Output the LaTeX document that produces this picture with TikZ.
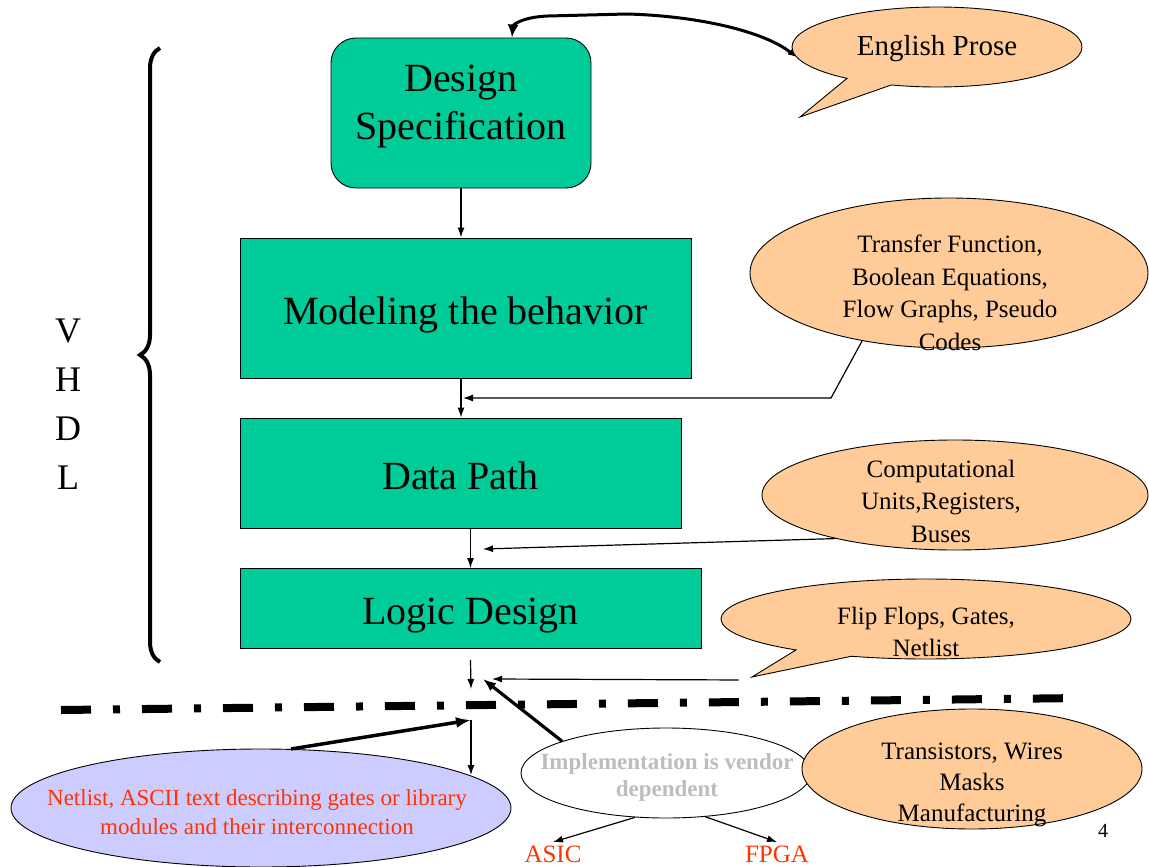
\documentclass[tikz,border=0pt]{standalone}
\usepackage{fontspec}
\setmainfont{Liberation Serif}
\usetikzlibrary{shapes.geometric,shapes.callouts,arrows.meta,decorations.pathreplacing}
\definecolor{stagegreen}{HTML}{00CC99}
\definecolor{notepeach}{HTML}{FFCC99}
\definecolor{netblue}{HTML}{CCCCFF}
\definecolor{labelred}{HTML}{FF3300}
\definecolor{vendorgray}{HTML}{BDBDBD}

\begin{document}
\begin{tikzpicture}[x=1pt, y=-1pt, >={Latex[length=10pt,width=7pt]}]
	\tikzset{stage/.style={draw, fill=stagegreen, line width=0.9pt, inner sep=0pt, text height=32pt, text depth=0pt, font=\fontsize{40}{48}\selectfont}}
	\tikzset{note/.style={draw, fill=notepeach, line width=0.9pt, inner sep=0pt}}
	\tikzset{notetext/.style={align=center, inner sep=0pt, font=\fontsize{25}{32.5}\selectfont}}
	\tikzset{feed/.style={->, line width=1.2pt}}
	\tikzset{heavy/.style={line width=3.5pt, -{Latex[length=15pt,width=11pt]}}}

	\useasboundingbox (0,0) rectangle (1149,867);

	\node[stage, rounded corners=25pt, minimum width=260pt, minimum height=150pt] (spec) at (461,113) {};
	\node[font=\fontsize{40}{48}\selectfont, align=center] (spectext) at (461,107) {Design\\Specification};
	\node[stage, minimum width=451pt, minimum height=140pt] (model) at (465.5,308) {Modeling the behavior};
	\node[stage, minimum width=441pt, minimum height=110pt] (datapath) at (460.5,473) {Data Path};
	\node[stage, minimum width=461pt, minimum height=80pt] (logic) at (470.5,608.5) {Logic Design};

	\draw[feed] (spec.south) -- (spec.south |- model.north);
	\draw[feed] (spec.south |- model.south) -- (spec.south |- datapath.north);
	\draw[feed] (logic.north |- datapath.south) -- (logic.north);

	% vhdl bracket
	\draw[line width=4pt, decorate, decoration={brace, amplitude=20pt, aspect=0.5}] (160,662) -- (160,48);
	\node[font=\fontsize{36}{49}\selectfont, align=center] (vhdl) at (68,404) {V\\H\\D\\L};

	% notes on the right
	\node[note, ellipse callout, callout pointer arc=20, minimum width=290pt, minimum height=80pt, callout absolute pointer={(800,117)}] (prose) at (937,47) {};
	\node[font=\fontsize{29}{35}\selectfont] (prosetext) at (937,49) {English Prose};
	\draw[line width=3pt, {Latex[length=8pt,width=7pt]}-{Latex[length=13pt,width=11pt]}] (prose.184) .. controls (765,32) and (700,16) .. (627,14) -- (548,16) .. controls (522,17) and (513,25) .. ([xshift=51pt]spec.north);

	\node[note, ellipse, minimum width=398pt, minimum height=150pt] (transfer) at (949,273) {};
	\node[notetext] (transfertext) at (950,293) {Transfer Function,\\Boolean Equations,\\Flow Graphs, Pseudo\\Codes};
	\coordinate (transferbend) at (831,398);
	\coordinate (transferhit) at (463,398);
	\draw[feed] (transfer.218) -- (transferbend) -- (transferhit);

	\node[note, ellipse, minimum width=386pt, minimum height=110pt] (units) at (955,495) {};
	\node[notetext] (unitstext) at (941,501) {Computational\\Units,Registers,\\Buses};
	\coordinate (unitshit) at (483,549);
	\draw[feed] (units.200) -- (unitshit);

	\node[note, ellipse callout, callout pointer arc=18, minimum width=410pt, minimum height=80pt, callout absolute pointer={(752,677)}] (flip) at (926,619) {};
	\node[notetext] (fliptext) at (926,632) {Flip Flops, Gates,\\Netlist};
	\coordinate (fliphit) at (492,679);
	\draw[feed] ([shift={(-11,2)}]flip.pointer) -- (fliphit);

	\coordinate (gather) at (471,689);
	\draw[feed] ([yshift=-11pt]logic.south) -- (gather);

	\draw[line width=8pt, dash pattern=on 30pt off 22pt on 7pt off 22pt] (61,710) -- (1082,698);

	% below the line
	\node[ellipse, draw, fill=netblue, line width=0.9pt, minimum width=500pt, minimum height=118pt, inner sep=0pt] (netlist) at (261,808) {};
	\node[notetext, text=labelred, font=\fontsize{23}{29}\selectfont] (netlisttext) at (257,812) {Netlist, ASCII text describing gates or library\\modules and their interconnection};
	\coordinate (gatherlow) at (471,720);
	\draw[heavy] (netlist.63) -- (gatherlow);
	\draw[feed] (gatherlow) -- (gatherlow |- netlist.9);

	\node[ellipse, draw, fill=white, line width=0.9pt, minimum width=290pt, minimum height=90pt, inner sep=0pt] (impl) at (666,773) {};
	\node[align=center, inner sep=0pt, text=vendorgray, font=\bfseries\fontsize{23}{27}\selectfont] (impltext) at (667,777) {Implementation is vendor\\dependent};
	\coordinate (implhit) at (483,679);
	\draw[line width=3.2pt, -{Latex[length=13pt,width=10pt]}] (impl.163) -- (implhit);

	\node[text=labelred, font=\fontsize{25}{30}\selectfont] (asic) at (553,854) {ASIC};
	\node[text=labelred, font=\fontsize{25}{30}\selectfont] (fpga) at (777,854) {FPGA};
	\draw[feed] (impl.235) -- (asic.north);
	\draw[feed] (impl.312) -- (fpga.north);

	\node[note, ellipse, minimum width=340pt, minimum height=120pt] (devices) at (972,769) {};
	\node[notetext, font=\fontsize{25}{31}\selectfont] (devicestext) at (972,785) {Transistors, Wires\\Masks\\Manufacturing};

	\node[font=\fontsize{20}{24}\selectfont] (pageno) at (1103,831) {4};
\end{tikzpicture}
\end{document}
